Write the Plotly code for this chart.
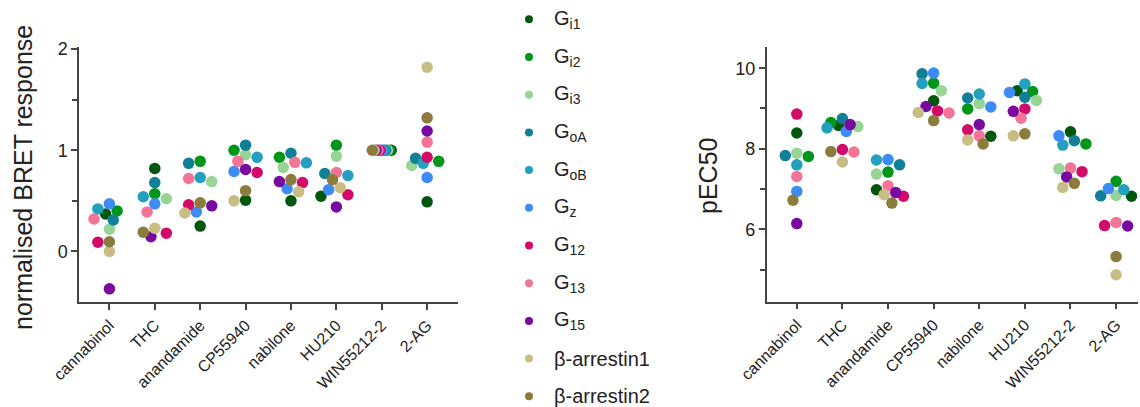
import math
import plotly.graph_objects as go

categories = ["cannabinol", "THC", "anandamide", "CP55940", "nabilone", "HU210", "WIN55212-2", "2-AG"]

series_labels = ["G<sub>i1</sub>", "G<sub>i2</sub>", "G<sub>i3</sub>", "G<sub>oA</sub>", "G<sub>oB</sub>",
                 "G<sub>z</sub>", "G<sub>12</sub>", "G<sub>13</sub>", "G<sub>15</sub>",
                 "β-arrestin1", "β-arrestin2"]
series_colors = ["#00560d", "#00961a", "#97d597", "#127f99", "#22a0bd", "#3d8cf5",
                 "#d40a6b", "#f47497", "#780aa0", "#c8be85", "#8c7c3c"]

# normalised BRET response (left panel)
bret_gi1 = [0.37, 0.82, 0.25, 0.505, 0.50, 0.545, 1.0, 0.49]
bret_gi2 = [0.40, 0.57, 0.89, 1.00, 0.93, 1.05, 1.0, 0.89]
bret_gi3 = [0.22, 0.52, 0.69, 0.955, 0.83, 0.94, 1.0, 0.85]
bret_goa = [0.31, 0.68, 0.87, 1.05, 0.97, 0.77, 1.0, 0.92]
bret_gob = [0.42, 0.54, 0.73, 0.93, 0.875, 0.75, 1.0, 0.87]
bret_gz = [0.47, 0.47, 0.39, 0.79, 0.62, 0.61, 1.0, 0.73]
bret_g12 = [0.09, 0.18, 0.46, 0.78, 0.68, 0.56, 1.0, 0.93]
bret_g13 = [0.32, 0.39, 0.72, 0.89, 0.88, 0.78, 1.0, 1.08]
bret_g15 = [-0.37, 0.145, 0.45, 0.81, 0.69, 0.44, 1.0, 1.19]
bret_barr1 = [0.0, 0.23, 0.38, 0.50, 0.59, 0.63, 1.0, 1.82]
bret_barr2 = [0.095, 0.19, 0.48, 0.60, 0.71, 0.71, 1.0, 1.32]

# pEC50 (right panel)
pec_gi1 = [8.39, 8.58, 6.98, 9.19, 8.31, 9.44, 8.42, 6.82]
pec_gi2 = [7.81, 8.65, 7.42, 9.63, 8.99, 9.42, 8.12, 7.19]
pec_gi3 = [7.89, 8.55, 7.37, 9.44, 9.12, 9.20, 7.50, 6.84]
pec_goa = [7.83, 8.75, 7.60, 9.86, 9.26, 9.28, 8.20, 6.83]
pec_gob = [7.60, 8.52, 7.72, 9.62, 9.36, 9.61, 8.09, 6.98]
pec_gz = [6.94, 8.43, 7.73, 9.88, 9.04, 9.40, 8.32, 7.01]
pec_g12 = [8.86, 7.98, 6.82, 8.94, 8.47, 8.99, 7.43, 6.09]
pec_g13 = [7.31, 7.92, 7.08, 8.89, 8.32, 8.76, 7.52, 6.17]
pec_g15 = [6.14, 8.60, 6.91, 9.05, 8.60, 8.93, 7.30, 6.08]
pec_barr1 = [None, 7.67, 6.86, 8.90, 8.22, 8.32, 7.04, 4.87]
pec_barr2 = [6.72, 7.93, 6.65, 8.70, 8.12, 8.37, 7.14, 5.32]

bret_series = [bret_gi1, bret_gi2, bret_gi3, bret_goa, bret_gob, bret_gz,
               bret_g12, bret_g13, bret_g15, bret_barr1, bret_barr2]
pec_series = [pec_gi1, pec_gi2, pec_gi3, pec_goa, pec_gob, pec_gz,
              pec_g12, pec_g13, pec_g15, pec_barr1, pec_barr2]

W, H = 1140, 407
FONT = "Arial, Liberation Sans, sans-serif"
TXT = "#222222"
AX = "#444444"


def swarm_offsets(values, ppu, step=3.85, dmin=9.5, wmax=15.5, tie_step=1.9):
    """Deterministic beeswarm: horizontal pixel offsets for one column of points."""
    n = len(values)
    off = [0.0] * n
    groups = {}
    for i, v in enumerate(values):
        if v is not None:
            groups.setdefault(v, []).append(i)
    cands = [0.0]
    for k in range(1, int(wmax // step) + 1):
        cands += [-k * step, k * step]
    placed = []
    for v in sorted(groups, reverse=True):
        y = v * ppu
        best, bestc, bestd = None, 0.0, -1.0
        for c in cands:
            d = min([math.hypot(c - px, y - py) for px, py in placed], default=1e9)
            if d >= dmin:
                best = c
                break
            if d > bestd:
                bestd, bestc = d, c
        if best is None:
            best = bestc
        members = groups[v]
        k = len(members)
        for j, i in enumerate(members):
            o = best + tie_step * ((k - 1) / 2 - j)
            off[i] = o
            placed.append((o, y))
    return off


def panel_positions(series, ppu_y, ppu_x):
    ncat = len(categories)
    xs = [[None] * ncat for _ in series]
    for c in range(ncat):
        col = [s[c] for s in series]
        offs = swarm_offsets(col, ppu_y)
        for si in range(len(series)):
            xs[si][c] = c + offs[si] / ppu_x
    return xs


# pixel geometry of the two panels
L_x0, L_x1, L_y0, L_y1 = 79, 458, 47, 302
R_x0, R_x1, R_y0, R_y1 = 766.7, 1138, 46.7, 301.7
L_xrange = [-0.67, 7.68]
L_yrange = [-0.5, 2.02]
R_xrange = [-0.66, 7.48]
R_yrange = [4.2, 10.535]

L_ppx = (L_x1 - L_x0) / (L_xrange[1] - L_xrange[0])
L_ppy = (L_y1 - L_y0) / (L_yrange[1] - L_yrange[0])
R_ppx = (R_x1 - R_x0) / (R_xrange[1] - R_xrange[0])
R_ppy = (R_y1 - R_y0) / (R_yrange[1] - R_yrange[0])

left_x = panel_positions(bret_series, L_ppy, L_ppx)
right_x = panel_positions(pec_series, R_ppy, R_ppx)

fig = go.Figure()
MS = 11.5
for si in range(len(series_labels)):
    fig.add_trace(go.Scatter(
        x=left_x[si], y=bret_series[si], mode="markers", xaxis="x", yaxis="y",
        marker=dict(size=MS, color=series_colors[si], line=dict(width=0)),
        showlegend=False, name=series_labels[si]))
    fig.add_trace(go.Scatter(
        x=right_x[si], y=pec_series[si], mode="markers", xaxis="x2", yaxis="y2",
        marker=dict(size=MS, color=series_colors[si], line=dict(width=0)),
        showlegend=False, name=series_labels[si]))

# key: one row per series on a hidden axis pair (row index -> vertical position)
LEG_X0, LEG_X1 = 490, 690          # pixel extent of the key area
LEG_FIRST, LEG_PITCH = 19.3, 37.7  # first row centre and row pitch (px)
LEG_MARK_X, LEG_TEXT_X = 39, 62    # marker centre / label start, px inside key area
rows = list(range(len(series_labels)))
fig.add_trace(go.Scatter(
    x=[LEG_MARK_X] * len(rows), y=rows, mode="markers", xaxis="x3", yaxis="y3",
    marker=dict(size=8, color=series_colors, line=dict(width=0)),
    showlegend=False, hoverinfo="skip"))

axis_common = dict(
    showline=True, linecolor=AX, linewidth=1.5, ticks="outside",
    tickcolor=AX, tickwidth=1.5, ticklen=6, showgrid=False, zeroline=False,
    automargin=False, tickfont=dict(family=FONT, size=18, color=TXT))

xcommon = dict(axis_common)
xcommon["tickfont"] = dict(family=FONT, size=16, color=TXT)

annotations = [
    dict(text="normalised BRET response", xref="paper", yref="paper",
         x=23 / W, y=1 - 178 / H, xanchor="center", yanchor="middle",
         textangle=-90, showarrow=False, font=dict(family=FONT, size=25, color=TXT)),
    dict(text="pEC50", xref="paper", yref="paper",
         x=708 / W, y=1 - 176 / H, xanchor="center", yanchor="middle",
         textangle=-90, showarrow=False, font=dict(family=FONT, size=25, color=TXT)),
]
for i in rows:
    annotations.append(dict(text=series_labels[i], xref="x3", yref="y3",
                            x=LEG_TEXT_X, y=i, xanchor="left", yanchor="middle",
                            showarrow=False, font=dict(family=FONT, size=20, color=TXT)))

fig.update_layout(
    width=W, height=H,
    margin=dict(l=0, r=0, t=0, b=0, autoexpand=False),
    paper_bgcolor="white", plot_bgcolor="white",
    font=dict(family=FONT, color=TXT),
    showlegend=False,
    xaxis=dict(xcommon, domain=[L_x0 / W, L_x1 / W], range=L_xrange,
               tickmode="array", tickvals=list(range(len(categories))),
               ticktext=categories, tickangle=-45, anchor="y"),
    yaxis=dict(axis_common, domain=[1 - L_y1 / H, 1 - L_y0 / H], range=L_yrange,
               tickmode="linear", tick0=0, dtick=1, anchor="x",
               minor=dict(ticks="outside", tickmode="array", tickvals=[0.5, 1.5],
                          ticklen=5, tickcolor=AX, tickwidth=1.5)),
    xaxis2=dict(xcommon, domain=[R_x0 / W, R_x1 / W], range=R_xrange,
                tickmode="array", tickvals=list(range(len(categories))),
                ticktext=categories, tickangle=-45, anchor="y2"),
    yaxis2=dict(axis_common, domain=[1 - R_y1 / H, 1 - R_y0 / H], range=R_yrange,
                tickmode="linear", tick0=0, dtick=2, anchor="x2",
                minor=dict(ticks="outside", dtick=1, tick0=0, ticklen=5,
                           tickcolor=AX, tickwidth=1.5)),
    xaxis3=dict(domain=[LEG_X0 / W, LEG_X1 / W], range=[0, LEG_X1 - LEG_X0],
                visible=False, fixedrange=True, anchor="y3"),
    yaxis3=dict(domain=[0, 1], visible=False, fixedrange=True, anchor="x3",
                range=[(H - LEG_FIRST) / LEG_PITCH, -LEG_FIRST / LEG_PITCH]),
    annotations=annotations,
)

fig.write_html("out.html")
